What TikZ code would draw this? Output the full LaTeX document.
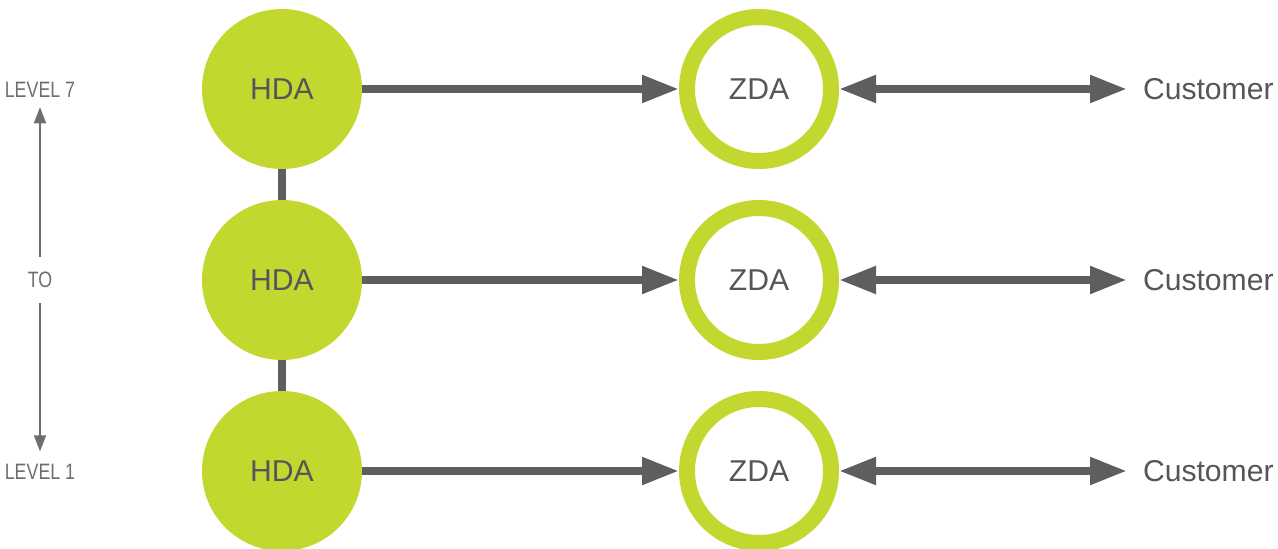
\documentclass[tikz,border=0pt]{standalone}
\usepackage{fontspec}
\setmainfont{Liberation Sans}
\usetikzlibrary{arrows.meta}
\definecolor{lime}{HTML}{C2D82F}
\definecolor{darkg}{HTML}{5E5E60}
\definecolor{txtg}{HTML}{55565A}
\definecolor{lightg}{HTML}{6D6E70}
\begin{document}
\begin{tikzpicture}[x=0.75pt,y=-0.75pt,
  bigfont/.style={font=\fontsize{22.6}{23}\selectfont},
  hdanode/.style={circle, fill=lime, minimum size=120pt, inner sep=0pt, text=txtg, bigfont},
  zdanode/.style={circle, draw=lime, line width=12pt, minimum size=108pt, inner sep=0pt, text=txtg, bigfont},
  custnode/.style={anchor=west, inner sep=0pt, outer xsep=12pt, text=txtg, bigfont},
  lvlnode/.style={text=lightg, inner xsep=0pt, font=\fontsize{16.7}{17}\selectfont},
  flowarrow/.style={draw=darkg, line width=6pt, -{Triangle[length=27.75pt,width=19.5pt]}},
  twoway/.style={draw=darkg, line width=6pt, {Triangle[length=27.75pt,width=19.5pt]}-{Triangle[length=27.75pt,width=19.5pt]}},
  barline/.style={draw=darkg, line width=6pt},
  levelarrow/.style={draw=lightg, line width=1pt, -{Triangle[length=12pt,width=9pt]}}
]
\useasboundingbox (0,0) rectangle (1278,549);

\node[hdanode] (h1) at (282,89) {HDA};
\node[hdanode] (h2) at (282,280) {HDA};
\node[hdanode] (h3) at (282,471) {HDA};

\node[zdanode] (z1) at (759,89) {ZDA};
\node[zdanode] (z2) at (759,280) {ZDA};
\node[zdanode] (z3) at (759,471) {ZDA};

\node[custnode] (c1) at (1127,89) {Customer};
\node[custnode] (c2) at (1127,280) {Customer};
\node[custnode] (c3) at (1127,471) {Customer};

\draw[barline] (h1.south) -- (h2.north);
\draw[barline] (h2.south) -- (h3.north);

\draw[flowarrow] (h1.east) -- (z1.west);
\draw[flowarrow] (h2.east) -- (z2.west);
\draw[flowarrow] (h3.east) -- (z3.west);

\draw[twoway] (z1.east) -- (c1.west);
\draw[twoway] (z2.east) -- (c2.west);
\draw[twoway] (z3.east) -- (c3.west);

\node[lvlnode, inner ysep=7pt] (l7) at (40,90) {\scalebox{0.8}[1]{LEVEL 7}};
\node[lvlnode, inner ysep=11pt] (to) at (40,280) {\scalebox{0.8}[1]{TO}};
\node[lvlnode, inner ysep=9.5pt] (l1) at (40,472) {\scalebox{0.8}[1]{LEVEL 1}};

\draw[levelarrow] (to.north) -- (l7.south);
\draw[levelarrow] (to.south) -- (l1.north);
\end{tikzpicture}
\end{document}
